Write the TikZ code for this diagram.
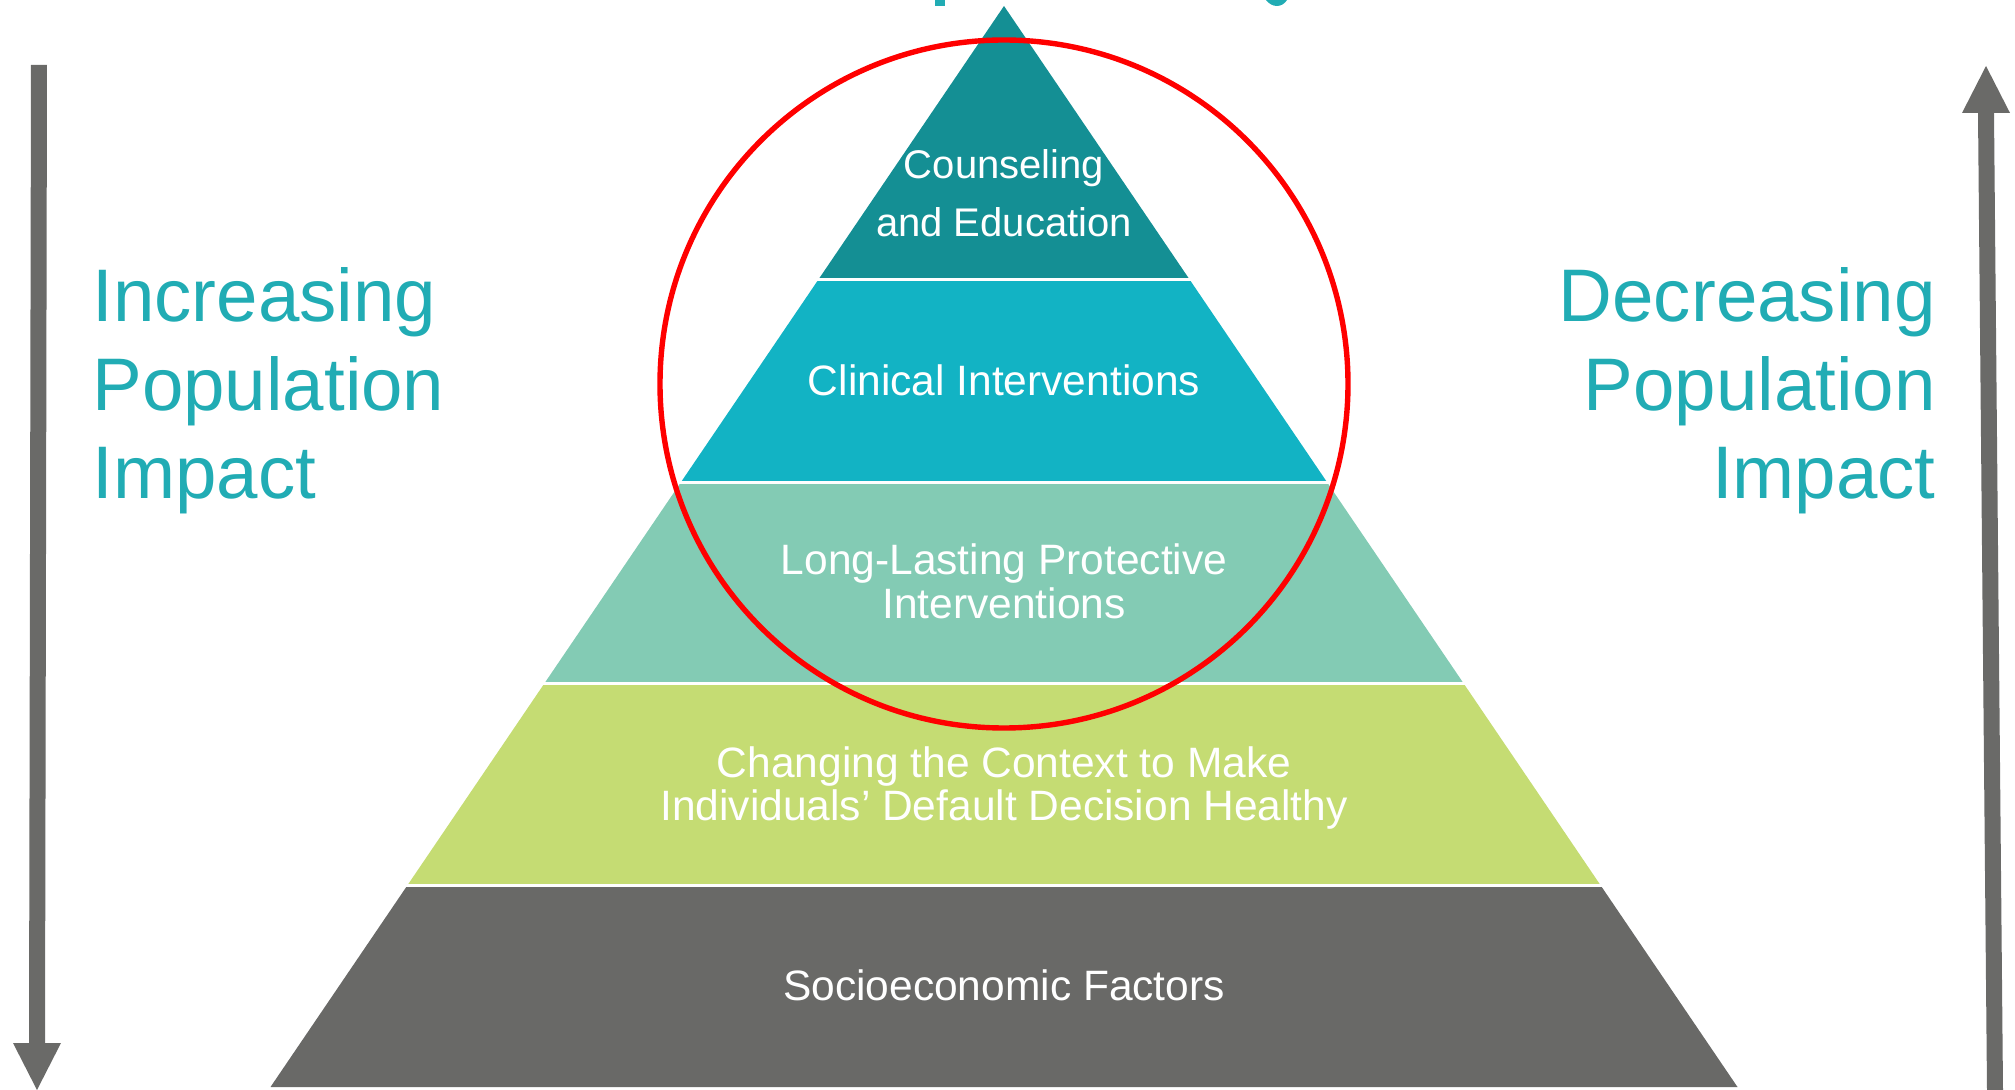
\documentclass[tikz,border=0pt]{standalone}
\usepackage{fontspec}
\setmainfont{Liberation Sans}
\definecolor{tierA}{RGB}{20,143,148}
\definecolor{tierB}{RGB}{18,179,196}
\definecolor{tierC}{RGB}{131,203,180}
\definecolor{tierD}{RGB}{197,220,115}
\definecolor{tierE}{RGB}{105,105,103}
\definecolor{arrowgrey}{RGB}{106,106,104}
\definecolor{sideteal}{RGB}{33,172,180}
\begin{document}
\begin{tikzpicture}[x=0.5pt,y=-0.5pt,
  sepline/.style={draw=white, line width=1.5pt},
  tierlabel/.style={text=white, align=center, inner sep=0pt,
    font=\fontsize{21.25}{22}\selectfont},
  sidelabel/.style={text=sideteal, inner sep=0pt,
    font=\fontsize{37.25}{44.25}\selectfont},
  ring/.style={draw=red, line width=2.7pt}]
\useasboundingbox (0,0) rectangle (2015,1090);
% title fragments cut at the top edge
\fill[sideteal] (935,0) rectangle (945,6);
\fill[sideteal] (1266,0) .. controls (1272,8) and (1282,8) .. (1287,0) -- cycle;
% pyramid tiers
\fill[tierA] (1004,6) -- (1189.9,280) -- (818.1,280) -- cycle;
\fill[tierB] (818.1,280) -- (1189.9,280) -- (1327.6,483) -- (680.4,483) -- cycle;
\fill[tierC] (680.4,483) -- (1327.6,483) -- (1464,684) -- (544,684) -- cycle;
\fill[tierD] (544,684) -- (1464,684) -- (1600.7,885.5) -- (407.3,885.5) -- cycle;
\fill[tierE] (407.3,885.5) -- (1600.7,885.5) -- (1737.5,1087) -- (270.5,1087) -- cycle;
% white separators
\draw[sepline] (805,280) -- (1203,280);
\draw[sepline] (668,483) -- (1340,483);
\draw[sepline] (530,684) -- (1478,684);
\draw[sepline] (394,885.5) -- (1614,885.5);
% red circle
\draw[ring] (1004,384) circle [radius=172pt];
% tier labels
\node[tierlabel, font=\fontsize{20}{29}\selectfont] (counsel) at (1004,193) {Counseling\\and Education};
\node[tierlabel] (clinical) at (1004,380) {Clinical Interventions};
\node[tierlabel] (longlast) at (1004,581.5) {Long-Lasting Protective\\Interventions};
\node[tierlabel, font=\fontsize{21.25}{21.5}\selectfont] (context) at (1004,788.5) {Changing the Context to Make\\Individuals’ Default Decision Healthy};
\node[tierlabel] (socio) at (1004,985) {Socioeconomic Factors};
% side labels
\node[sidelabel, anchor=west, align=left] (inc) at (92,391) {Increasing\\Population\\Impact};
\node[sidelabel, anchor=east, align=right] (dec) at (1936,391) {Decreasing\\Population\\Impact};
% side arrows
\fill[arrowgrey] (31,65) -- (47,65) -- (45,1043) -- (61,1043) -- (37,1090) -- (13,1043) -- (29,1043) -- cycle;
\fill[arrowgrey] (1986,66) -- (2010,113) -- (1994,113) -- (2003,1090) -- (1987,1090) -- (1978,113) -- (1962,113) -- cycle;
\end{tikzpicture}
\end{document}
